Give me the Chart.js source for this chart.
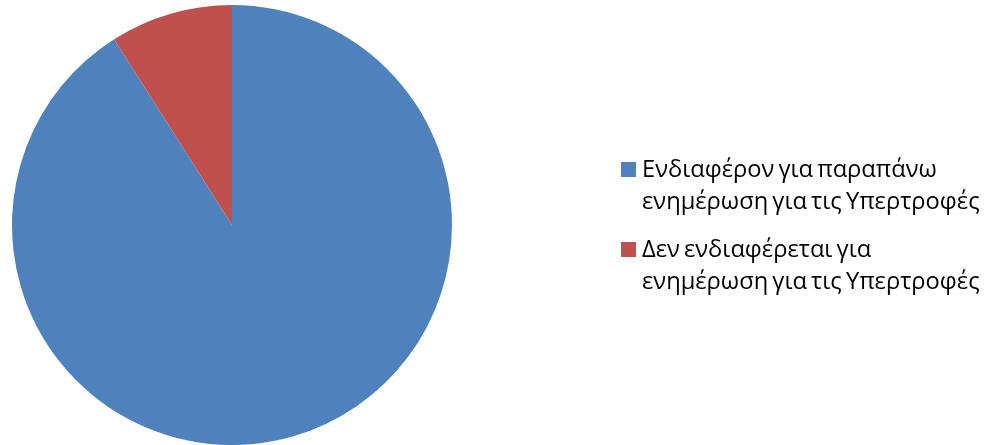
<!DOCTYPE html>
<html>
<head>
<meta charset="utf-8">
<script src="https://cdn.jsdelivr.net/npm/chart.js@4/dist/chart.umd.min.js"></script>
<style>
  html, body { margin: 0; padding: 0; background: #fff; }
  #wrap { width: 991px; height: 445px; position: relative; }
</style>
</head>
<body>
<div id="wrap"><canvas id="pie"></canvas></div>
<script>
const LABELS = [
    ["Ενδιαφέρον για παραπάνω", "ενημέρωση για τις Υπερτροφές"],
    ["Δεν ενδιαφέρεται για", "ενημέρωση για τις Υπερτροφές"]
];
const VALUES = [91, 9];
const COLORS = ["#4F81BD", "#C0504D"];

// legend on the right, each entry wrapped over two lines
const sideLegend = {
    id: "sideLegend",
    afterDraw(chart) {
        const ctx = chart.ctx;
        ctx.save();
        ctx.font = "23.7px 'Open Sans', 'Noto Sans', sans-serif";
        ctx.textBaseline = "middle";
        if ("wordSpacing" in ctx) ctx.wordSpacing = "-2px";
        let y = 170;
        chart.data.labels.forEach((lines, i) => {
            ctx.fillStyle = chart.data.datasets[0].backgroundColor[i];
            ctx.fillRect(621, y - 8, 15, 15);
            ctx.fillStyle = "#000";
            lines.forEach((line, j) => {
                ctx.fillText(line, 642, y + j * 32.5);
            });
            y += 80;
        });
        ctx.restore();
    }
};

const context = document.getElementById("pie").getContext("2d");
const chart = new Chart(context, {
    type: "pie",
    data: {
        labels: LABELS,
        datasets: [{
            data: VALUES,
            backgroundColor: COLORS,
            borderWidth: 0
        }]
    },
    options: {
        responsive: true,
        maintainAspectRatio: false,
        animation: false,
        layout: { padding: { left: 12, right: 539, top: 5, bottom: 0 } },
        plugins: {
            legend: { display: false },
            tooltip: { enabled: false }
        }
    },
    plugins: [sideLegend]
});
</script>
</body>
</html>
